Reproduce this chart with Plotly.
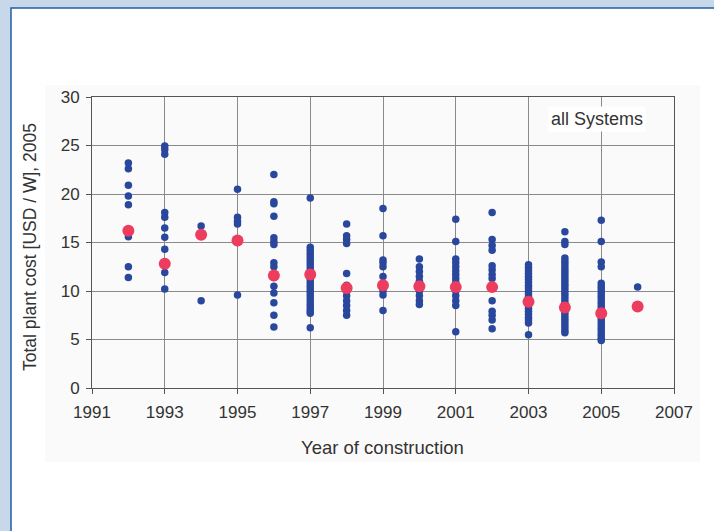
import plotly.graph_objects as go

# ---- data ----
years = [1992, 1993, 1994, 1995, 1996, 1997, 1998, 1999, 2000, 2001, 2002, 2003, 2004, 2005, 2006]

cost_1992 = [23.2, 22.6, 20.9, 19.8, 18.9, 15.6, 12.5, 11.4]
cost_1993 = [24.95, 24.6, 24.1, 18.1, 17.6, 16.5, 15.55, 14.3, 13.0, 11.9, 10.2]
cost_1994 = [16.7, 9.0]
cost_1995 = [20.5, 17.6, 17.2, 16.9, 15.0, 9.6]
cost_1996 = [22.0, 19.2, 19.0, 17.7, 15.5, 15.1, 14.8, 12.9, 12.5, 11.4, 10.5, 9.8, 8.8, 7.5, 6.3]
cost_1997 = [19.6, 14.5, 14.2, 13.9, 13.6, 13.3, 13.0, 12.7, 12.4, 12.1, 11.8, 11.5, 11.2,
             10.9, 10.6, 10.3, 10.0, 9.7, 9.4, 9.1, 8.8, 8.5, 8.2, 7.9, 7.7, 6.2]
cost_1998 = [16.9, 15.7, 15.3, 14.9, 11.8, 10.6, 10.0, 9.5, 9.0, 8.5, 8.0, 7.5]
cost_1999 = [18.5, 15.7, 13.2, 12.9, 12.5, 11.5, 10.4, 10.0, 9.6, 8.0]
cost_2000 = [13.3, 12.5, 12.0, 11.5, 11.0, 10.5, 10.0, 9.5, 9.0, 8.6]
cost_2001 = [17.4, 15.1, 13.3, 12.9, 12.5, 12.1, 11.7, 11.3, 10.9, 10.4, 10.0, 9.5, 9.0, 8.5, 5.8]
cost_2002 = [18.1, 15.3, 14.7, 14.2, 12.6, 12.2, 11.7, 11.3, 10.4, 9.0, 7.9, 7.5, 7.0, 6.1]
cost_2003 = [12.7, 12.4, 12.1, 11.8, 11.5, 11.2, 10.9, 10.6, 10.3, 10.0, 9.7, 9.4, 9.1, 8.8,
             8.5, 8.2, 7.9, 7.6, 7.3, 7.0, 6.7, 5.5]
cost_2004 = [16.1, 15.1, 14.8, 13.4, 13.1, 12.8, 12.5, 12.2, 11.9, 11.6, 11.3, 11.0, 10.7,
             10.4, 10.1, 9.8, 9.5, 9.2, 8.9, 8.6, 8.3, 8.0, 7.7, 7.4, 7.1, 6.8, 6.5, 6.2, 5.9, 5.7]
cost_2005 = [17.3, 15.1, 13.0, 12.5, 10.8, 10.5, 10.2, 9.9, 9.6, 9.3, 9.0, 8.7, 8.4, 8.1,
             7.8, 7.5, 7.2, 6.9, 6.6, 6.3, 6.0, 5.7, 5.4, 5.1, 4.9]
cost_2006 = [10.4]

mean_cost = [16.2, 12.8, 15.8, 15.2, 11.6, 11.7, 10.3, 10.6, 10.5, 10.4, 10.4, 8.9, 8.3, 7.7, 8.4]

x_ticks = [1991, 1993, 1995, 1997, 1999, 2001, 2003, 2005, 2007]
y_ticks = [0, 5, 10, 15, 20, 25, 30]

per_year = [cost_1992, cost_1993, cost_1994, cost_1995, cost_1996, cost_1997, cost_1998,
            cost_1999, cost_2000, cost_2001, cost_2002, cost_2003, cost_2004, cost_2005, cost_2006]

bx, by = [], []
for yr, vals in zip(years, per_year):
    bx += [yr] * len(vals)
    by += vals

FONT = "Liberation Sans, Arial, sans-serif"
BG = "#c6d8e9"
W, H = 714, 531
ML, MT = 92, 97
PW, PH = 582, 291
MR, MB = W - ML - PW, H - MT - PH


def px_x(p):
    """screen pixel -> paper x"""
    return (p - ML) / PW


def px_y(p):
    """screen pixel -> paper y"""
    return (MT + PH - p) / PH


fig = go.Figure()
fig.add_trace(go.Scatter(x=bx, y=by, mode="markers",
                         marker=dict(size=7.5, color="#2a479e"),
                         hoverinfo="x+y", showlegend=False))
fig.add_trace(go.Scatter(x=years, y=mean_cost, mode="markers",
                         marker=dict(size=12, color="#ee3c5e"),
                         hoverinfo="x+y", showlegend=False))

shapes = [
    # white panel with dark blue left/top edge
    dict(type="rect", xref="paper", yref="paper", layer="below",
         x0=px_x(11), x1=px_x(760), y0=px_y(580), y1=px_y(8),
         fillcolor="white", line=dict(color="#1f5da6", width=1.5)),
    # faint grey picture area
    dict(type="rect", xref="paper", yref="paper", layer="below",
         x0=px_x(45), x1=px_x(700), y0=px_y(462), y1=px_y(85),
         fillcolor="#fafafa", line=dict(width=0)),
]

annotations = [
    dict(text="all Systems", xref="paper", yref="paper", x=px_x(597), y=px_y(119),
         xanchor="center", yanchor="middle",
         showarrow=False, font=dict(family=FONT, size=18, color="#333"),
         bgcolor="white", borderpad=2),
    dict(text="Total plant cost [USD / W], 2005", xref="paper", yref="paper",
         x=px_x(30), y=px_y(247), xanchor="center", yanchor="middle",
         textangle=-90, showarrow=False,
         font=dict(family=FONT, size=17.5, color="#333")),
    dict(text="Year of construction", xref="paper", yref="paper",
         x=px_x(382), y=px_y(447), xanchor="center", yanchor="middle",
         showarrow=False, font=dict(family=FONT, size=18.5, color="#333")),
]

axis_common = dict(showgrid=True, gridcolor="#8a8a8a", gridwidth=1,
                   showline=True, linecolor="#555", linewidth=1, mirror=True,
                   ticks="outside", ticklen=5, tickcolor="#555", zeroline=False,
                   tickfont=dict(family=FONT, size=17, color="#333"), fixedrange=True)

fig.update_layout(
    width=W, height=H,
    margin=dict(l=ML, r=MR, t=MT, b=MB),
    paper_bgcolor=BG, plot_bgcolor="white",
    xaxis=dict(range=[1991, 2007], tickvals=x_ticks, ticklabelstandoff=4, **axis_common),
    yaxis=dict(range=[0, 30], tickvals=y_ticks, ticklabelstandoff=3, **axis_common),
    shapes=shapes, annotations=annotations, showlegend=False,
)

fig.write_html(
    "out.html",
    config={"displayModeBar": False},
    post_script=("document.body.style.margin='0';"
                 "document.body.style.overflow='hidden';"
                 "document.body.style.background='" + BG + "';"),
)
